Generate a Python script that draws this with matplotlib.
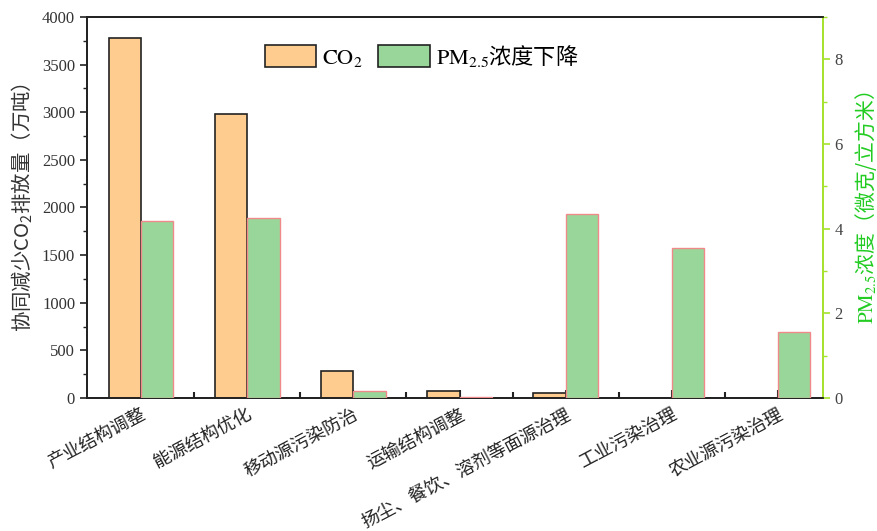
import numpy as np
import matplotlib.pyplot as plt
from matplotlib.patches import Patch
from matplotlib.ticker import MultipleLocator

plt.rcParams['font.family'] = ['Liberation Serif', 'Noto Sans CJK SC']
plt.rcParams['mathtext.fontset'] = 'stix'
plt.rcParams['mathtext.default'] = 'regular'

cjk = 'Noto Sans CJK SC'

# reduction measures
categories = ['产业结构调整', '能源结构优化', '移动源污染防治', '运输结构调整',
              '扬尘、餐饮、溶剂等面源治理', '工业污染治理', '农业源污染治理']
# synergistic CO2 reduction (10^4 t)
co2 = [3780, 2980, 285, 70, 55, 5, 0]
# PM2.5 concentration drop (ug/m3)
pm25 = [4.18, 4.24, 0.17, 0.03, 4.34, 3.55, 1.56]

orange = '#ffcc8f'
green = '#99d699'
spine_green = '#a6e22e'

fig = plt.figure(figsize=(8.78, 5.31), dpi=100)
ax = fig.add_axes([0.099, 0.2505, 0.838, 0.7175])
ax2 = ax.twinx()

x = np.arange(len(categories))
w = 0.305
ax.bar(x - w / 2, co2, w, color=orange, edgecolor='#222222', linewidth=1.2, zorder=3)
ax2.bar(x + w / 2, pm25, w, color=green, edgecolor='#f08a8a', linewidth=1.0, zorder=3)

ax.set_xlim(-0.51, 6.42)
ax.set_ylim(0, 4000)
ax2.set_ylim(0, 9)

# left axis
ax.yaxis.set_major_locator(MultipleLocator(500))
ax.yaxis.set_minor_locator(MultipleLocator(250))
ax.tick_params(axis='y', which='major', direction='out', length=5, width=1.2,
               labelsize=12, colors='#222222', labelcolor='#333333')
ax.tick_params(axis='y', which='minor', direction='out', length=3, width=1.0, colors='#222222')
ax.set_ylabel('协同减少CO$_2$排放量（万吨）', fontsize=14.7, family=cjk,
              color='#333333', labelpad=5)

# bottom axis: ticks at centres, minor ticks between groups
ax.set_xticks(x)
ax.set_xticklabels(categories, rotation=28, ha='right', rotation_mode='anchor',
                   fontsize=13, color='#222222')
ax.set_xticks(x[:-1] + 0.5, minor=True)
ax.tick_params(axis='x', which='major', direction='in', length=6, width=1.5, pad=6, colors='#222222')
ax.tick_params(axis='x', which='minor', direction='in', length=4, width=1.5, colors='#222222')
for lbl in ax.get_xticklabels():
    lbl.set_color('#222222')

# right axis
ax2.yaxis.set_major_locator(MultipleLocator(2))
ax2.yaxis.set_minor_locator(MultipleLocator(1))
ax2.tick_params(axis='y', which='major', direction='out', length=5, width=1.2,
                colors=spine_green, labelcolor='#444444', labelsize=12)
ax2.tick_params(axis='y', which='minor', direction='out', length=3, width=1.0, colors=spine_green)
ax2.set_ylabel(r'$\mathrm{PM}_{\mathrm{2.5}}$浓度（微克/立方米）', fontsize=15, family=cjk,
               color='#22cc22', labelpad=7)

for a in (ax, ax2):
    for side in ('left', 'bottom', 'top'):
        a.spines[side].set_color('#222222')
        a.spines[side].set_linewidth(1.3)
    a.spines['right'].set_color(spine_green)
    a.spines['right'].set_linewidth(1.3)

handles = [Patch(facecolor=orange, edgecolor='#222222', linewidth=1.2,
                 label=r'$\mathrm{CO}_{\mathrm{2}}$'),
           Patch(facecolor=green, edgecolor='#222222', linewidth=1.2,
                 label=r'$\mathrm{PM}_{\mathrm{2.5}}$浓度下降')]
ax.legend(handles=handles, loc='upper center', bbox_to_anchor=(0.455, 0.985), ncol=2,
          frameon=False, prop={'family': cjk, 'size': 16}, handlelength=2.3,
          handleheight=1.1, columnspacing=0.7, handletextpad=0.3)

fig.savefig('out.png', dpi=100)
